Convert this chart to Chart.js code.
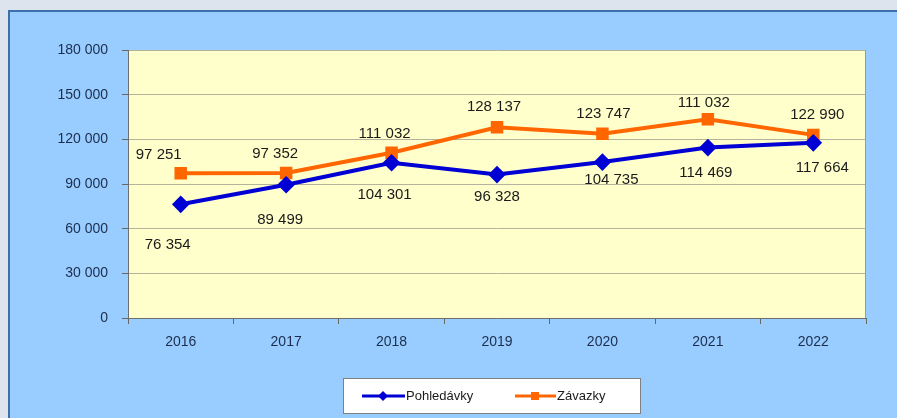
<!DOCTYPE html>
<html>
<head>
<meta charset="utf-8">
<script src="https://cdn.jsdelivr.net/npm/chart.js"></script>
<style>
  body { margin: 0; background: #dde4ee; overflow: hidden; }
  canvas { display: block; }
</style>
</head>
<body>
<canvas id="myChart" width="897" height="418"></canvas>
<script>
const years = ["2016", "2017", "2018", "2019", "2020", "2021", "2022"];
const pohledavky = [76354, 89499, 104301, 96328, 104735, 114469, 117664];
const zavazky = [97251, 97352, 111032, 128137, 123747, 133500, 122990];
// labels as printed in the source chart (2021 label differs from the plotted point)
const pohledavkyLabels = ["76 354", "89 499", "104 301", "96 328", "104 735", "114 469", "117 664"];
const zavazkyLabels = ["97 251", "97 352", "111 032", "128 137", "123 747", "111 032", "122 990"];

// where each data label sits relative to its point (px)
const blueLabelNudge = [[-13, 41], [-6, 35], [-7, 32], [0, 22], [9, 18], [-2, 25], [9, 25]];
const orangeLabelNudge = [[-22, -18], [-11, -19], [-7, -19], [-3, -20], [1, -20], [-4, -16], [4, -20]];

const FONT = "'Liberation Sans', Arial, sans-serif";
const BLUE = "#0000d4";
const ORANGE = "#ff6600";

function fmt(v) {
  return String(v).replace(/\B(?=(\d{3})+(?!\d))/g, " ");
}

const backdrop = {
  id: "backdrop",
  beforeDraw(chart) {
    const ctx = chart.ctx, a = chart.chartArea;
    ctx.save();
    ctx.fillStyle = "#dde4ee";
    ctx.fillRect(0, 0, chart.width, chart.height);
    ctx.fillStyle = "#99ccff";
    ctx.fillRect(8, 10, chart.width, chart.height);
    ctx.fillStyle = "#3d6fa8";
    ctx.fillRect(8, 10, 2, chart.height);
    ctx.fillRect(8, 10, chart.width, 2);
    ctx.fillStyle = "#ffffcc";
    ctx.fillRect(a.left, a.top, a.right - a.left, a.bottom - a.top);
    ctx.restore();
  },
  afterDraw(chart) {
    const ctx = chart.ctx, a = chart.chartArea;
    ctx.save();
    ctx.strokeStyle = "#9a9a9a";
    ctx.lineWidth = 1;
    ctx.beginPath();
    ctx.moveTo(a.right - 0.5, a.top);
    ctx.lineTo(a.right - 0.5, a.bottom);
    ctx.stroke();

    // legend
    const lx = 343, ly = 378, lw = 298, lh = 36;
    ctx.fillStyle = "#ffffff";
    ctx.fillRect(lx, ly, lw, lh);
    ctx.strokeStyle = "#808080";
    ctx.strokeRect(lx + 0.5, ly + 0.5, lw - 1, lh - 1);
    const cy = ly + lh / 2;
    ctx.font = "13px " + FONT;
    ctx.textBaseline = "middle";
    // Pohledavky
    ctx.strokeStyle = BLUE; ctx.lineWidth = 3;
    ctx.beginPath(); ctx.moveTo(362, cy); ctx.lineTo(405, cy); ctx.stroke();
    ctx.fillStyle = BLUE;
    ctx.beginPath();
    ctx.moveTo(383, cy - 5); ctx.lineTo(388, cy); ctx.lineTo(383, cy + 5); ctx.lineTo(378, cy);
    ctx.closePath(); ctx.fill();
    ctx.fillStyle = "#1a1a1a";
    ctx.fillText("Pohledávky", 406, cy);
    // Zavazky
    ctx.strokeStyle = ORANGE;
    ctx.beginPath(); ctx.moveTo(515, cy); ctx.lineTo(556, cy); ctx.stroke();
    ctx.fillStyle = ORANGE;
    ctx.fillRect(531, cy - 4, 8, 8);
    ctx.fillStyle = "#1a1a1a";
    ctx.fillText("Závazky", 557, cy);
    ctx.restore();
  },
  afterDatasetsDraw(chart) {
    const ctx = chart.ctx;
    ctx.save();
    ctx.font = "15px " + FONT;
    ctx.fillStyle = "#1a1a1a";
    ctx.textAlign = "center";
    ctx.textBaseline = "middle";
    const sets = [
      { meta: chart.getDatasetMeta(0), labels: pohledavkyLabels, nudge: blueLabelNudge },
      { meta: chart.getDatasetMeta(1), labels: zavazkyLabels, nudge: orangeLabelNudge }
    ];
    sets.forEach(s => {
      s.meta.data.forEach((pt, i) => {
        ctx.fillText(s.labels[i], pt.x + s.nudge[i][0], pt.y + s.nudge[i][1]);
      });
    });
    ctx.restore();
  }
};

new Chart("myChart", {
  type: "line",
  data: {
    labels: years,
    datasets: [{
      label: "Pohledávky",
      data: pohledavky,
      borderColor: BLUE,
      backgroundColor: BLUE,
      borderWidth: 4,
      pointStyle: "rectRot",
      pointRadius: 6,
      pointHoverRadius: 6,
      fill: false,
      tension: 0
    }, {
      label: "Závazky",
      data: zavazky,
      borderColor: ORANGE,
      backgroundColor: ORANGE,
      borderWidth: 4,
      pointStyle: "rect",
      pointRadius: 6,
      pointHoverRadius: 6,
      fill: false,
      tension: 0
    }]
  },
  options: {
    responsive: false,
    animation: false,
    events: [],
    layout: { padding: { left: 0, top: 50, right: 31, bottom: 0 } },
    plugins: {
      legend: { display: false },
      title: { display: false },
      tooltip: { enabled: false }
    },
    scales: {
      x: {
        offset: true,
        grid: { offset: true, drawOnChartArea: false, tickLength: 6, tickColor: "#666666" },
        border: { color: "#6e6e6e", width: 1 },
        ticks: { color: "#1b2e4e", font: { family: FONT, size: 14 }, padding: 10, maxRotation: 0 },
        afterFit: s => { s.height = 100; }
      },
      y: {
        min: 0,
        max: 180000,
        grid: { color: "#b4b49c", tickColor: "#666666", tickLength: 6 },
        border: { color: "#6e6e6e", width: 1 },
        ticks: {
          stepSize: 30000,
          color: "#1b2e4e",
          font: { family: FONT, size: 14 },
          padding: 14,
          callback: v => fmt(v)
        },
        afterFit: s => { s.width = 128; }
      }
    }
  },
  plugins: [backdrop]
});
</script>
</body>
</html>
